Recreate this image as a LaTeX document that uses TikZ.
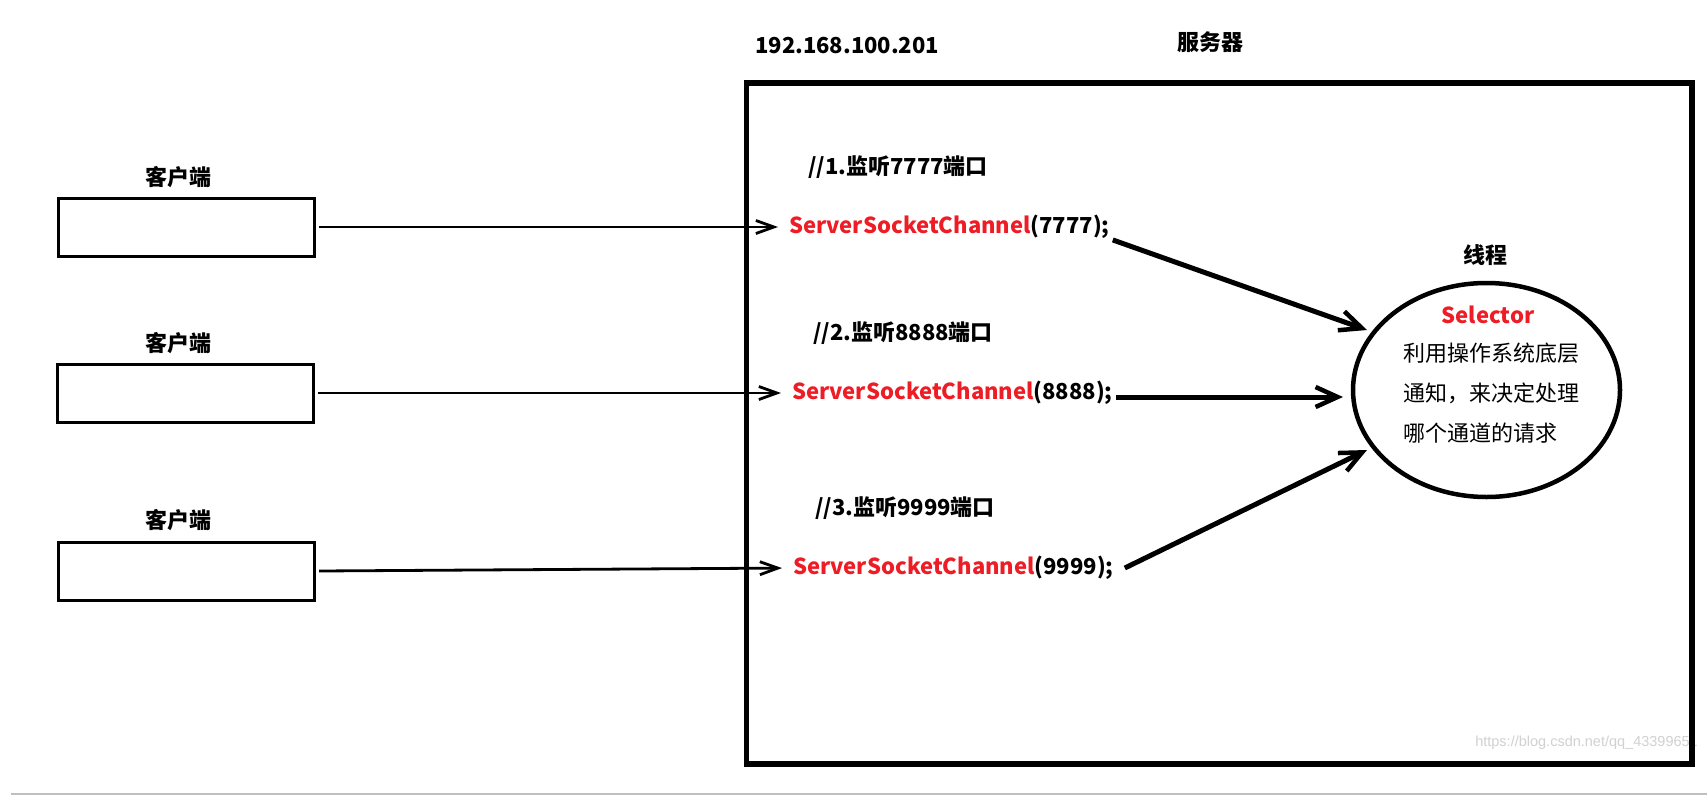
\documentclass[tikz,border=0pt]{standalone}
\usepackage{fontspec}
\setmainfont{Noto Sans CJK SC}
\newfontfamily\wmfont{Liberation Sans}
\usetikzlibrary{arrows.meta,shapes.geometric}
\definecolor{codered}{HTML}{EE1C25}
\tikzset{
  clientbox/.style={draw,line width=3pt,minimum width=256pt,minimum height=58pt,inner sep=0pt},
  boldlbl/.style={font=\fontsize{22}{26}\selectfont\bfseries,inner sep=0pt},
  chan/.style={font=\fontsize{22}{26}\selectfont\bfseries,inner sep=1pt,anchor=west},
  desc/.style={font=\fontsize{22}{26}\selectfont,anchor=west,inner sep=0pt},
  thinarrow/.style={line width=2.8pt,shorten >=10pt,-{Straight Barb[length=18pt,width=13pt,line width=2.8pt]}},
  thickarrow/.style={line width=5pt,-{Straight Barb[length=22pt,width=20pt,line width=4.5pt]}},
}
\begin{document}
\begin{tikzpicture}[x=1pt,y=-1pt]
\useasboundingbox[fill=white] (0,0) rectangle (1707,795);
% watermark (under the frame)
\node[font=\wmfont\fontsize{14.5}{17}\selectfont,text=black!18,anchor=east,inner sep=0pt] (wm) at (1698,743) {https://blog.csdn.net/qq\_43399651};
% clients
\node[clientbox] (c1) at (186.5,227) {};
\node[clientbox] (c2) at (185,393) {};
\node[clientbox] (c3) at (186.5,571) {};
\node[boldlbl] (l1) at (178,177) {客户端};
\node[boldlbl] (l2) at (178,343) {客户端};
\node[boldlbl] (l3) at (178,520) {客户端};
% server
\node[draw,line width=5.5pt,minimum width=945.5pt,minimum height=681pt,inner sep=0pt] (srv) at (1219,423.5) {};
\node[boldlbl,anchor=west] (ip) at (755,46) {192.168.100.201};
\node[boldlbl] (srvl) at (1210,42) {服务器};
% comments
\node[boldlbl,anchor=west] (m1) at (808,167) {//1.监听7777端口};
\node[boldlbl,anchor=west] (m2) at (813,333) {//2.监听8888端口};
\node[boldlbl,anchor=west] (m3) at (815,508) {//3.监听9999端口};
% channels
\node[chan] (ch1) at (788,227) {\textcolor{codered}{ServerSocketChannel}(7777);};
\node[chan] (ch2) at (791,393) {\textcolor{codered}{ServerSocketChannel}(8888);};
\node[chan] (ch3) at (792,568) {\textcolor{codered}{ServerSocketChannel}(9999);};
% selector
\node[draw,ellipse,line width=4.5pt,minimum width=267pt,minimum height=214pt,inner sep=0pt] (sel) at (1486.5,390) {};
\node[boldlbl] (thr) at (1485,255) {线程};
\node[boldlbl,text=codered] (selt) at (1488,315) {Selector};
\node[desc] (d1) at (1403,353) {利用操作系统底层};
\node[desc] (d2) at (1403,393) {通知，来决定处理};
\node[desc] (d3) at (1403,433) {哪个通道的请求};
% arrow tips
\coordinate (t1) at (1367,330);
\coordinate (t2) at (1343,397);
\coordinate (t3) at (1367,450);
% connectors
\draw[thinarrow] (c1.east) ++(3,0) coordinate (s1) (s1) -- (ch1.west);
\draw[thinarrow] (c2.east) ++(3,0) coordinate (s2) (s2) -- (ch2.west);
\draw[thinarrow] (c3.east) ++(3,0) coordinate (s3) (s3) -- (ch3.west);
\draw[thickarrow] ([xshift=2pt]ch1.south east) -- (t1);
\draw[thickarrow] ([xshift=2pt,yshift=-4pt]ch2.east) -- (t2);
\draw[thickarrow] ([xshift=10pt]ch3.east) -- (t3);
% bottom rule
\draw[black!25,line width=1.5pt] (11,794) -- (1707,794);
\end{tikzpicture}
\end{document}
